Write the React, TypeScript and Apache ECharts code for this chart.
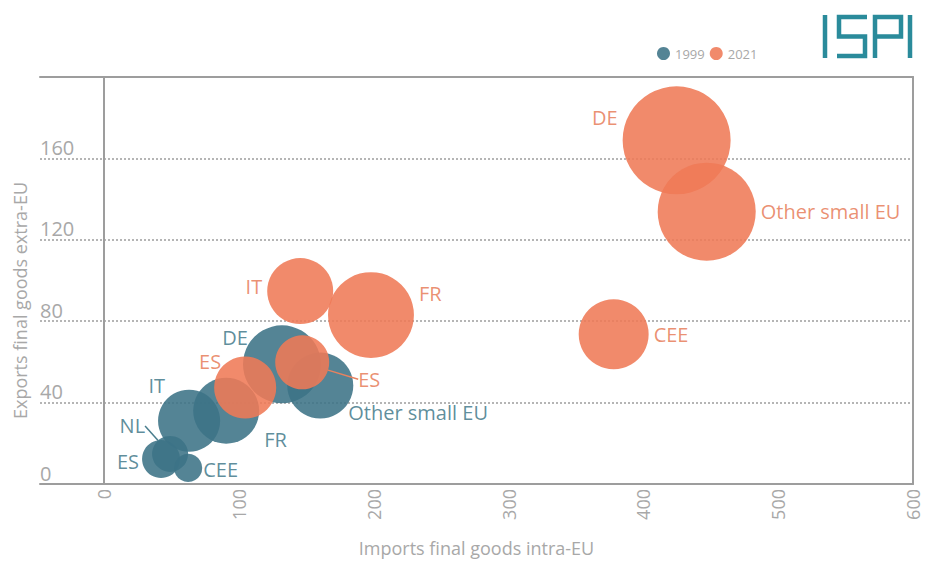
import React, { useEffect, useRef } from "react";
import * as echarts from "echarts";

const seriesNames = ["1999", "2021"];

const names1999 = ["DE", "Other small EU", "FR", "IT", "NL", "ES", "CEE"];
const imports1999 = [132, 160.4, 90.6, 63.1, 49, 42.3, 62.4];
const exports1999 = [58.8, 48.4, 36, 31.1, 14.8, 12.3, 7.9];
const size1999 = [169, 121, 121, 107, 36, 40, 22];

const names2021 = ["DE", "Other small EU", "CEE", "FR", "IT", "ES", "ES"];
const imports2021 = [424.7, 447, 378, 198, 145.5, 104.7, 147];
const exports2021 = [168.9, 133.8, 73.6, 83, 94.8, 47.4, 59.8];
const size2021 = [324, 267, 136, 205, 121, 107, 81];

const xTicks = [0, 100, 200, 300, 400, 500, 600];
const yTicks = [0, 40, 80, 120, 160];

// label placement (style only)
const place1999: [string, number, number, boolean][] = [
  ["left", 10, -27, false],
  ["right", -10, 27, false],
  ["right", 0, 29, false],
  ["left", 12, -35, false],
  ["left", -2, -28, true],
  ["left", 2, 3, false],
  ["right", -4, 2, false],
];
const place2021: [string, number, number, boolean][] = [
  ["left", 0, -23, false],
  ["right", 0, 0, false],
  ["right", 0, 0, false],
  ["right", 0, -22, false],
  ["left", 0, -5, false],
  ["left", 12, -26, false],
  ["right", 24, 17, true],
];

const TEAL = "#3c7386";
const TEAL_TEXT = "#4a7e8e";
const ORANGE = "#ef7a57";
const ORANGE_TEXT = "#e8825f";
const AXIS_GRAY = "#9d9d9d";
const TEXT_GRAY = "#a8a8a8";
const FONT = "'Open Sans', Lato, sans-serif";
const LOGO = "#2a8b9b";

function buildData(names: string[], xs: number[], ys: number[], sizes: number[], place: [string, number, number, boolean][], color: string) {
  return names.map((n, i) => ({
    name: n,
    value: [xs[i], ys[i], sizes[i]],
    label: {
      show: true,
      position: place[i][0],
      color,
      fontSize: 20,
      fontFamily: FONT,
      formatter: "{b}",
    },
    labelLine: place[i][3]
      ? { show: true, lineStyle: { color, width: 1.5 } }
      : { show: false },
  }));
}

export default function App() {
  const ref = useRef<HTMLDivElement>(null);
  useEffect(() => {
    if (!ref.current) return;
    const chart = echarts.init(ref.current, null, { renderer: "svg" });
    const xMin = -47.47;
    const option: any = {
      animation: false,
      backgroundColor: "#ffffff",
      textStyle: { fontFamily: FONT },
      grid: { left: 40, right: 12, top: 77, bottom: 81, containLabel: false },
      legend: {
        data: seriesNames,
        left: 652,
        top: 42,
        icon: "circle",
        itemWidth: 13,
        itemHeight: 13,
        itemGap: 5,
        textStyle: { color: TEXT_GRAY, fontSize: 13, fontFamily: FONT },
      },
      xAxis: [
        {
          type: "value",
          min: xMin,
          max: 600,
          axisLine: { show: true, onZero: false, lineStyle: { color: AXIS_GRAY, width: 2 } },
          axisTick: { show: false },
          splitLine: { show: false },
          axisLabel: {
            customValues: xTicks,
            rotate: 90,
            color: TEXT_GRAY,
            fontSize: 18,
            margin: 5,
            fontFamily: FONT,
          },
          name: "Imports final goods intra-EU",
          nameLocation: "middle",
          nameGap: 55,
          nameTextStyle: { color: TEXT_GRAY, fontSize: 18, fontFamily: FONT },
          z: 5,
        },
        {
          type: "value",
          position: "top",
          min: xMin,
          max: 600,
          axisLine: { show: true, onZero: false, lineStyle: { color: AXIS_GRAY, width: 2 } },
          axisTick: { show: false },
          splitLine: { show: false },
          axisLabel: { show: false },
          z: 5,
        },
      ],
      yAxis: [
        {
          type: "value",
          min: 0,
          max: 200,
          interval: 40,
          axisLine: { show: false },
          axisTick: { show: false },
          axisLabel: {
            inside: true,
            customValues: yTicks,
            align: "left",
            verticalAlign: "bottom",
            margin: 0,
            color: TEXT_GRAY,
            fontSize: 20,
            fontFamily: FONT,
            padding: [0, 0, 1, 0],
          },
          splitLine: {
            show: true,
            lineStyle: { type: [2, 2], color: "#b5b5b5", width: 2 },
          },
          name: "Exports final goods extra-EU",
          nameLocation: "middle",
          nameGap: 10,
          nameTextStyle: {
            color: TEXT_GRAY,
            fontSize: 18,
            fontFamily: FONT,
            padding: [0, 40, 0, 0],
          },
        },
        {
          type: "value",
          position: "right",
          min: 0,
          max: 200,
          axisLine: { show: true, onZero: false, lineStyle: { color: AXIS_GRAY, width: 2 } },
          axisTick: { show: false },
          axisLabel: { show: false },
          splitLine: { show: false },
          z: 5,
        },
        {
          type: "value",
          position: "left",
          offset: -64,
          min: 0,
          max: 200,
          axisLine: { show: true, onZero: false, lineStyle: { color: AXIS_GRAY, width: 2 } },
          axisTick: { show: false },
          axisLabel: { show: false },
          splitLine: { show: false },
          z: 5,
        },
      ],
      series: [
        {
          name: seriesNames[0],
          type: "scatter",
          xAxisIndex: 0,
          yAxisIndex: 0,
          itemStyle: { color: TEAL, opacity: 0.88 },
          symbolSize: (v: number[]) => 6 * Math.sqrt(v[2]),
          data: buildData(names1999, imports1999, exports1999, size1999, place1999, TEAL_TEXT),
          labelLayout: (p: any) => ({ dx: place1999[p.dataIndex][1], dy: place1999[p.dataIndex][2] }),
          z: 6,
        },
        {
          name: seriesNames[1],
          type: "scatter",
          xAxisIndex: 0,
          yAxisIndex: 0,
          itemStyle: { color: ORANGE, opacity: 0.88 },
          symbolSize: (v: number[]) => 6 * Math.sqrt(v[2]),
          data: buildData(names2021, imports2021, exports2021, size2021, place2021, ORANGE_TEXT),
          labelLayout: (p: any) => ({ dx: place2021[p.dataIndex][1], dy: place2021[p.dataIndex][2] }),
          z: 7,
        },
      ],
      graphic: [
        { type: "line", shape: { x1: 825, y1: 15, x2: 825, y2: 58 }, style: { stroke: LOGO, lineWidth: 4.5 } },
        {
          type: "polyline",
          shape: { points: [[867, 17], [839, 17], [839, 36.5], [865, 36.5], [865, 56], [837, 56]] },
          style: { stroke: LOGO, lineWidth: 4.5, fill: null, lineJoin: "miter" },
        },
        {
          type: "polyline",
          shape: { points: [[875, 58], [875, 17], [901, 17], [901, 36.5], [875, 36.5]] },
          style: { stroke: LOGO, lineWidth: 4.5, fill: null, lineJoin: "miter" },
        },
        { type: "line", shape: { x1: 910, y1: 15, x2: 910, y2: 58 }, style: { stroke: LOGO, lineWidth: 4.5 } },
      ],
    };
    chart.setOption(option);
    return () => chart.dispose();
  }, []);
  return <div ref={ref} style={{ width: 925, height: 565, position: "absolute", left: 0, top: 0 }} />;
}
